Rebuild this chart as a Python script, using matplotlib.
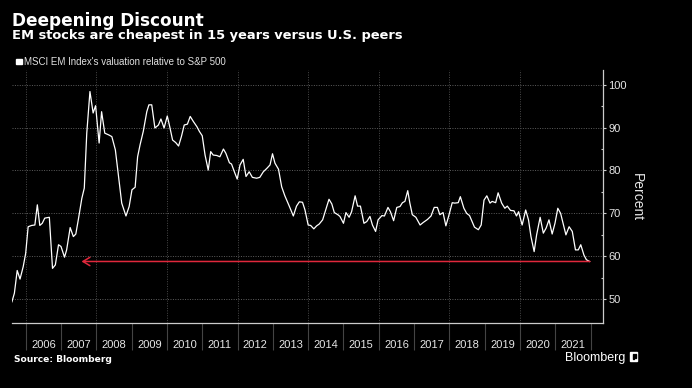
import matplotlib
matplotlib.use("Agg")
import matplotlib.pyplot as plt
from matplotlib.patches import Rectangle

# MSCI EM valuation relative to S&P 500 (percent)
years = [
    2005.61, 2005.68, 2005.76, 2005.84, 2005.93, 2006.00, 2006.07, 2006.17, 2006.26, 2006.33,
    2006.40, 2006.47, 2006.54, 2006.67, 2006.76, 2006.84, 2006.93, 2007.00, 2007.10, 2007.16,
    2007.26, 2007.35, 2007.42, 2007.49, 2007.59, 2007.66, 2007.73, 2007.82, 2007.91, 2007.98,
    2008.08, 2008.15, 2008.24, 2008.35, 2008.44, 2008.54, 2008.63, 2008.72, 2008.84, 2008.93,
    2009.01, 2009.10, 2009.17, 2009.24, 2009.33, 2009.43, 2009.49, 2009.57, 2009.66, 2009.76,
    2009.83, 2009.92, 2010.01, 2010.08, 2010.16, 2010.25, 2010.33, 2010.41, 2010.49, 2010.58,
    2010.66, 2010.75, 2010.85, 2010.92, 2011.00, 2011.08, 2011.17, 2011.24, 2011.31, 2011.41,
    2011.50, 2011.60, 2011.67, 2011.77, 2011.83, 2011.91, 2011.99, 2012.07, 2012.16, 2012.24,
    2012.33, 2012.42, 2012.54, 2012.63, 2012.73, 2012.83, 2012.92, 2012.99, 2013.06, 2013.16,
    2013.25, 2013.34, 2013.47, 2013.58, 2013.67, 2013.75, 2013.84, 2013.91, 2014.00, 2014.07,
    2014.16, 2014.24, 2014.31, 2014.41, 2014.48, 2014.59, 2014.67, 2014.74, 2014.84, 2014.90,
    2015.00, 2015.07, 2015.16, 2015.23, 2015.33, 2015.40, 2015.48, 2015.58, 2015.66, 2015.75,
    2015.82, 2015.91, 2015.98, 2016.09, 2016.16, 2016.26, 2016.33, 2016.42, 2016.51, 2016.60,
    2016.67, 2016.74, 2016.82, 2016.88, 2016.95, 2017.05, 2017.17, 2017.26, 2017.38, 2017.48,
    2017.57, 2017.66, 2017.73, 2017.82, 2017.90, 2017.98, 2018.08, 2018.15, 2018.25, 2018.31,
    2018.41, 2018.49, 2018.57, 2018.71, 2018.82, 2018.90, 2018.98, 2019.06, 2019.15, 2019.21,
    2019.31, 2019.38, 2019.48, 2019.57, 2019.64, 2019.73, 2019.83, 2019.90, 2019.96, 2020.06,
    2020.16, 2020.24, 2020.31, 2020.40, 2020.47, 2020.57, 2020.66, 2020.74, 2020.82, 2020.91,
    2020.99, 2021.07, 2021.15, 2021.22, 2021.30, 2021.39, 2021.48, 2021.57, 2021.65, 2021.72,
    2021.81, 2021.88, 2021.97,
]
valuation = [
    49.4, 51.4, 56.7, 54.7, 57.6, 60.7, 66.9, 67.2, 67.3, 72.0,
    67.2, 67.7, 68.9, 69.1, 57.2, 58.0, 62.7, 62.3, 59.8, 61.5,
    66.7, 64.6, 65.2, 68.5, 73.5, 75.9, 88.7, 98.4, 93.4, 95.1,
    86.4, 93.7, 88.7, 88.3, 87.9, 84.8, 78.6, 72.4, 69.4, 71.6,
    75.5, 76.1, 83.2, 86.0, 89.1, 93.7, 95.3, 95.3, 89.9, 90.6,
    92.0, 89.9, 92.7, 90.2, 87.1, 86.5, 85.7, 87.9, 90.6, 90.8,
    92.6, 91.4, 90.2, 89.1, 88.1, 83.6, 80.1, 84.4, 83.6, 83.5,
    83.2, 85.0, 84.0, 81.8, 81.5, 79.7, 78.0, 81.3, 82.6, 78.6,
    79.7, 78.4, 78.2, 78.4, 79.7, 80.5, 81.3, 83.9, 81.7, 80.3,
    76.2, 74.1, 71.6, 69.4, 71.7, 72.7, 72.6, 70.8, 67.3, 67.2,
    66.4, 67.1, 67.5, 68.5, 70.4, 73.3, 72.2, 70.2, 69.7, 69.3,
    67.7, 70.2, 69.1, 70.4, 74.1, 71.7, 71.7, 67.7, 68.1, 69.3,
    67.3, 65.8, 68.5, 69.5, 69.4, 71.4, 70.4, 68.3, 71.4, 71.6,
    72.5, 72.8, 75.3, 72.4, 69.7, 69.1, 67.3, 67.9, 68.6, 69.4,
    71.4, 71.4, 69.7, 70.2, 67.1, 69.4, 72.5, 72.4, 72.5, 73.9,
    71.2, 70.0, 69.5, 66.8, 66.2, 67.3, 73.1, 74.1, 72.4, 72.8,
    72.5, 74.8, 72.4, 71.2, 71.7, 70.7, 70.6, 69.4, 70.4, 67.3,
    70.8, 68.5, 64.6, 61.1, 65.0, 69.1, 65.4, 66.6, 68.5, 65.2,
    67.7, 71.2, 70.0, 67.7, 65.0, 66.9, 65.8, 61.5, 61.5, 62.7,
    60.3, 59.2, 58.8,
]

year_labels = [str(y) for y in range(2006, 2022)]
y_ticks = [50, 60, 70, 80, 90, 100]
arrow_level = 58.8
arrow_start = 2021.98
arrow_tip = 2007.58

fig = plt.figure(figsize=(6.92, 3.88), dpi=100, facecolor="black")
ax = fig.add_axes([0.0169, 0.1668, 0.8549, 0.6515], facecolor="black")

ax.plot(years, valuation, color="white", lw=0.9, zorder=3)
ax.annotate("", xy=(arrow_tip, arrow_level), xytext=(arrow_start, arrow_level),
            arrowprops=dict(arrowstyle="->,head_length=0.5,head_width=0.3",
                            color="#e0283c", lw=1.1, mutation_scale=10,
                            shrinkA=0, shrinkB=0), zorder=4)

ax.set_xlim(2005.604, 2022.358)
ax.set_ylim(44.4, 103.3)

# horizontal grid
for v in y_ticks:
    ax.axhline(v, color="#5e5e5e", lw=0.7, ls=(0, (1, 1.5)), zorder=1)
# vertical grid every second year
for yr in range(2006, 2022, 2):
    ax.axvline(yr, color="#4a4a4a", lw=0.7, ls=(0, (1, 1.5)), zorder=1)

for s in ["left", "top"]:
    ax.spines[s].set_visible(False)
ax.spines["bottom"].set_color("#cccccc")
ax.spines["right"].set_color("#cccccc")
ax.spines["bottom"].set_linewidth(0.9)
ax.spines["right"].set_linewidth(0.9)

ax.yaxis.tick_right()
ax.set_yticks(y_ticks)
ax.set_yticks([55, 65, 75, 85, 95], minor=True)
ax.tick_params(axis="y", which="major", direction="out", length=2.2, width=0.8,
               color="#cccccc", labelcolor="#e6e6e6", labelsize=8, pad=1.6)
ax.tick_params(axis="y", which="minor", direction="in", length=1.6, width=0.8,
               color="#cccccc")
for lab in ax.get_yticklabels():
    lab.set_family("Liberation Sans")

ax.set_xticks(range(2006, 2023))
ax.set_xticklabels([])
ax.set_xticks([int(y) + 0.5 for y in year_labels], minor=True)
ax.set_xticklabels(year_labels, minor=True, family="Liberation Sans")
ax.tick_params(axis="x", which="major", direction="out", length=19.5, width=0.8,
               color="#444444")
ax.tick_params(axis="x", which="minor", length=0, labelcolor="#e6e6e6",
               labelsize=8, pad=12)

fig.text(0.017, 1 - 26.0 / 388, "Deepening Discount", color="white",
         fontsize=12.2, fontweight="bold", family="DejaVu Sans", va="baseline")
fig.text(0.017, 1 - 39.0 / 388, "EM stocks are cheapest in 15 years versus U.S. peers",
         color="white", fontsize=9.4, fontweight="bold", family="DejaVu Sans",
         va="baseline")

fig.patches.append(Rectangle((16 / 692, 1 - 64.3 / 388), 5.7 / 692, 5 / 388,
                             transform=fig.transFigure, color="white"))
fig.text(24 / 692, 1 - 65 / 388, "MSCI EM Index's valuation relative to S&P 500",
         color="#e0e0e0", fontsize=7, family="Liberation Sans", va="baseline")

fig.text(637 / 692, 1 - 197 / 388, "Percent", color="#e6e6e6", fontsize=10,
         family="Liberation Sans", rotation=270, ha="center", va="center")

fig.text(14 / 692, 1 - 362 / 388, "Source: Bloomberg", color="white", fontsize=6.6,
         fontweight="bold", family="DejaVu Sans", va="baseline")
fig.text(565 / 692, 1 - 360.5 / 388, "Bloomberg", color="white", fontsize=9,
         family="Liberation Sans", va="baseline")
fig.patches.append(Rectangle((630 / 692, 1 - 361 / 388), 7 / 692, 9 / 388,
                             transform=fig.transFigure, color="white"))
fig.patches.append(Rectangle((632.5 / 692, 1 - 359 / 388), 1 / 692, 5 / 388,
                             transform=fig.transFigure, color="black"))
fig.patches.append(Rectangle((634.5 / 692, 1 - 358 / 388), 1 / 692, 4 / 388,
                             transform=fig.transFigure, color="black"))

fig.savefig("out.png", dpi=100, facecolor="black")
